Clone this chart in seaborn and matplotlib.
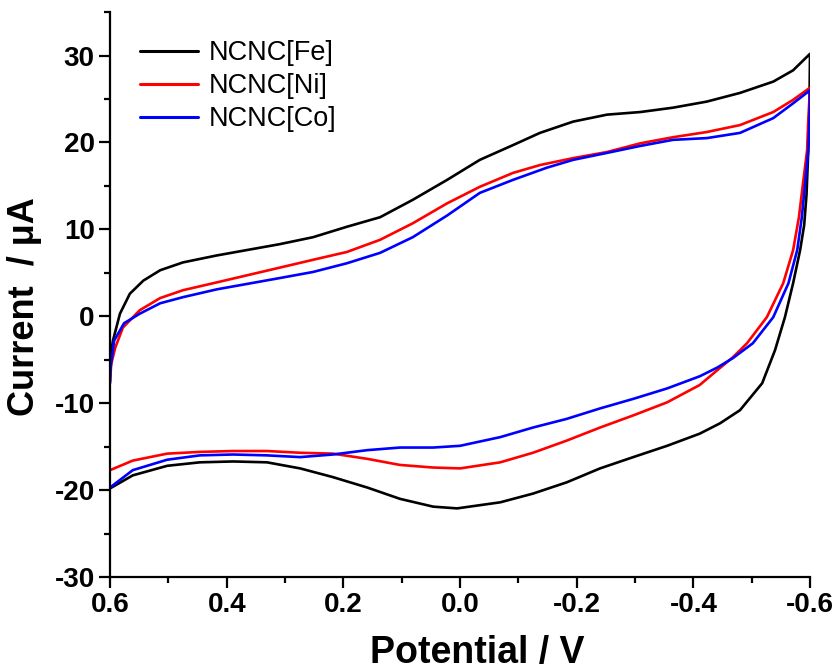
import matplotlib
matplotlib.use("Agg")
import matplotlib.pyplot as plt
from matplotlib.ticker import MultipleLocator
import numpy as np
import pandas as pd
import seaborn as sns

# Cyclic voltammograms: forward sweep (0.6 -> -0.6 V) then reverse sweep (-0.6 -> 0.6 V)
fe_fwd_v = [0.6, 0.595, 0.583, 0.566, 0.543, 0.514, 0.475, 0.417, 0.309, 0.252, 0.194, 0.137,
            0.081, 0.022, -0.034, -0.091, -0.137, -0.194, -0.252, -0.309, -0.365, -0.423,
            -0.48, -0.537, -0.571, -0.6]
fe_fwd_i = [-5.0, -2.8, 0.3, 2.6, 4.1, 5.3, 6.2, 7.0, 8.3, 9.1, 10.3, 11.4,
            13.4, 15.7, 18.0, 19.7, 21.1, 22.4, 23.2, 23.5, 24.0, 24.7,
            25.7, 27.0, 28.3, 30.2]
fe_rev_v = [-0.6, -0.599, -0.597, -0.594, -0.59, -0.583, -0.571, -0.557, -0.54, -0.518, -0.48,
            -0.446, -0.411, -0.355, -0.297, -0.24, -0.183, -0.125, -0.069, 0.005, 0.046, 0.103,
            0.159, 0.218, 0.274, 0.331, 0.389, 0.446, 0.502, 0.561, 0.6]
fe_rev_i = [30.2, 24.0, 19.0, 14.0, 10.5, 7.6, 3.8, -0.1, -3.9, -7.7, -10.8,
            -12.3, -13.5, -14.9, -16.2, -17.5, -19.1, -20.4, -21.4, -22.1, -21.9, -21.0,
            -19.7, -18.5, -17.5, -16.8, -16.7, -16.8, -17.2, -18.3, -19.8]

ni_fwd_v = [0.6, 0.598, 0.591, 0.578, 0.549, 0.514, 0.475, 0.417, 0.309, 0.252, 0.194, 0.137,
            0.081, 0.022, -0.034, -0.091, -0.137, -0.194, -0.252, -0.309, -0.365, -0.423,
            -0.48, -0.537, -0.571, -0.6]
ni_fwd_i = [-7.5, -5.5, -3.6, -1.3, 0.7, 2.1, 3.0, 3.9, 5.6, 6.5, 7.4, 8.8,
            10.7, 13.0, 14.9, 16.5, 17.4, 18.2, 18.9, 19.9, 20.6, 21.2,
            22.0, 23.5, 24.9, 26.3]
ni_rev_v = [-0.6, -0.597, -0.595, -0.588, -0.581, -0.571, -0.554, -0.526, -0.492, -0.468,
            -0.441, -0.411, -0.355, -0.297, -0.24, -0.183, -0.125, -0.069, 0.0, 0.046, 0.103,
            0.159, 0.218, 0.274, 0.331, 0.389, 0.446, 0.502, 0.561, 0.6]
ni_rev_i = [26.3, 22.5, 19.1, 15.3, 11.4, 7.6, 3.8, -0.1, -3.1, -4.7,
            -6.2, -7.9, -9.9, -11.4, -12.8, -14.3, -15.7, -16.8, -17.5, -17.4, -17.1,
            -16.4, -15.8, -15.7, -15.5, -15.5, -15.6, -15.8, -16.6, -17.7]

co_fwd_v = [0.6, 0.599, 0.593, 0.576, 0.549, 0.514, 0.475, 0.417, 0.309, 0.252, 0.194, 0.137,
            0.081, 0.022, -0.034, -0.091, -0.149, -0.194, -0.252, -0.309, -0.365, -0.394,
            -0.423, -0.48, -0.537, -0.571, -0.6]
co_fwd_i = [-7.7, -5.9, -2.8, -0.8, 0.3, 1.5, 2.2, 3.1, 4.4, 5.1, 6.1, 7.3,
            9.1, 11.6, 14.2, 15.7, 17.1, 18.0, 18.8, 19.6, 20.3, 20.4,
            20.5, 21.1, 22.8, 24.5, 26.0]
co_rev_v = [-0.6, -0.599, -0.597, -0.586, -0.578, -0.563, -0.537, -0.502, -0.468, -0.441,
            -0.411, -0.355, -0.297, -0.24, -0.183, -0.125, -0.069, 0.0, 0.046, 0.103, 0.159,
            0.218, 0.274, 0.331, 0.389, 0.446, 0.502, 0.561, 0.6]
co_rev_i = [26.0, 22.5, 19.1, 11.4, 7.6, 3.8, -0.1, -3.1, -4.8, -5.9,
            -6.9, -8.3, -9.5, -10.6, -11.8, -12.8, -13.9, -14.9, -15.1, -15.1, -15.4,
            -15.9, -16.2, -16.0, -15.9, -16.0, -16.5, -17.7, -19.7]

samples = ["NCNC[Fe]", "NCNC[Ni]", "NCNC[Co]"]
colors = ["#000000", "#ff0000", "#0000ff"]

frames = []
for name, fv, fi, rv, ri in [
    (samples[0], fe_fwd_v, fe_fwd_i, fe_rev_v, fe_rev_i),
    (samples[1], ni_fwd_v, ni_fwd_i, ni_rev_v, ni_rev_i),
    (samples[2], co_fwd_v, co_fwd_i, co_rev_v, co_rev_i),
]:
    v = list(fv) + list(rv)
    i = list(fi) + list(ri)
    frames.append(pd.DataFrame({"Potential": v, "Current": i, "Sample": name}))
df = pd.concat(frames, ignore_index=True)

sns.set_style("ticks")
plt.rcParams["font.family"] = ["Liberation Sans", "DejaVu Sans"]
plt.rcParams["axes.unicode_minus"] = False
plt.rcParams["text.color"] = "black"
plt.rcParams["axes.labelcolor"] = "black"
plt.rcParams["xtick.color"] = "black"
plt.rcParams["ytick.color"] = "black"
plt.rcParams["axes.edgecolor"] = "black"

fig = plt.figure(figsize=(8.38, 6.71), dpi=100)
ax = fig.add_axes([0.1313, 0.140, 0.8353, 0.842])

sns.lineplot(data=df, x="Potential", y="Current", hue="Sample", hue_order=samples,
             palette=colors, sort=False, estimator=None, linewidth=1.9, ax=ax)

ax.set_xlim(0.6, -0.6)
ax.set_ylim(-30, 35)
ax.xaxis.set_minor_locator(MultipleLocator(0.1))
ax.yaxis.set_minor_locator(MultipleLocator(5))
ax.set_xticks([0.6, 0.4, 0.2, 0.0, -0.2, -0.4, -0.6])
ax.set_xticklabels(["0.6", "0.4", "0.2", "0.0", "-0.2", "-0.4", "-0.6"])
ax.set_yticks([-30, -20, -10, 0, 10, 20, 30])
ax.set_yticklabels(["-30", "-20", "-10", "0", "10", "20", "30"])

for side in ["top", "right"]:
    ax.spines[side].set_visible(False)
for side in ["left", "bottom"]:
    ax.spines[side].set_linewidth(1.6)
ax.tick_params(which="major", direction="out", length=8, width=1.6, labelsize=20, pad=3)
ax.tick_params(which="minor", direction="out", length=4.5, width=1.6)
for lab in ax.get_xticklabels() + ax.get_yticklabels():
    lab.set_fontweight("bold")

ax.set_xlabel("Potential / V", fontsize=27, fontweight="bold")
ax.set_ylabel("Current  / μA", fontsize=26, fontweight="bold")
ax.xaxis.set_label_coords(0.524, -0.103)
ax.yaxis.set_label_coords(-0.097, 0.478)

leg = ax.legend(loc="upper left", bbox_to_anchor=(0.008, 0.993), frameon=False,
                fontsize=19.5, handlelength=2.15, handletextpad=0.4, labelspacing=0.26)
for line in leg.get_lines():
    line.set_linewidth(2.2)

fig.savefig("out.png", dpi=100)
